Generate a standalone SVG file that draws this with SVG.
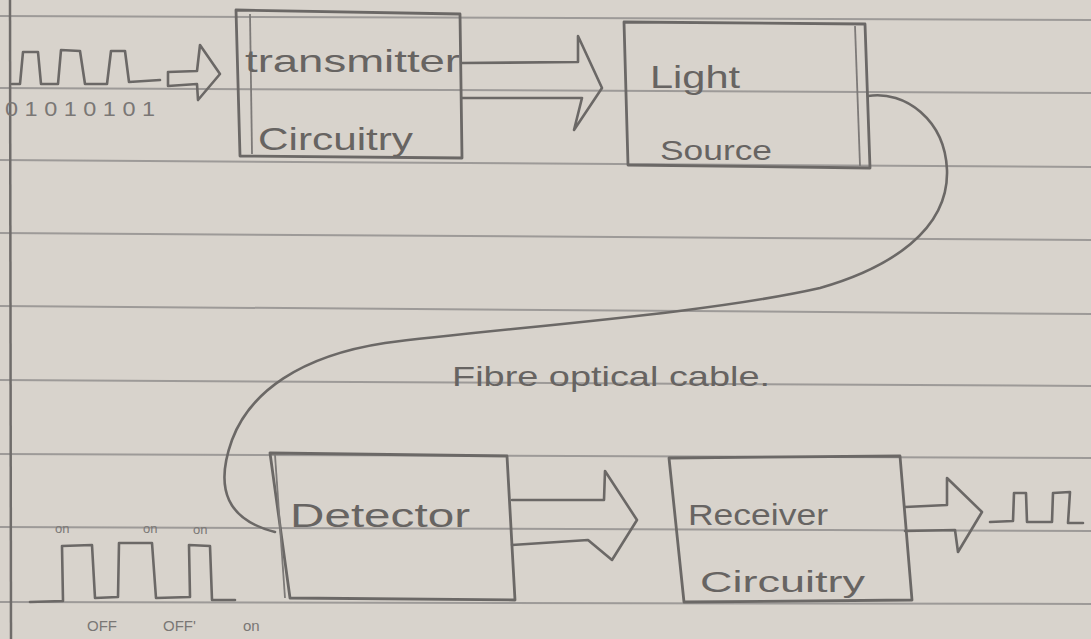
<svg xmlns="http://www.w3.org/2000/svg" width="1091" height="639" viewBox="0 0 1091 639">
<style>
.paper{fill:#d8d3cc}
.rule{stroke:#9d9a98;stroke-width:2;fill:none}
.margin{stroke:#6f6c6a;stroke-width:2.5;fill:none}
.pen{stroke:#6b6866;stroke-width:2.6;fill:none;stroke-linejoin:round;stroke-linecap:round}
.pen2{stroke:#7d7a78;stroke-width:1.8;fill:none}
.box{stroke:#6b6866;stroke-width:2.8;fill:none;stroke-linejoin:round}
.lbl{font-family:"Liberation Sans","DejaVu Sans",sans-serif;fill:#676462}
.sm{font-family:"Liberation Sans","DejaVu Sans",sans-serif;fill:#7a7775}
</style>
<rect class="paper" x="0" y="0" width="1091" height="639"/>
<g id="paper-lines">
<path class="rule" d="M0,16 L1091,20"/>
<path class="rule" d="M0,88 L1091,93"/>
<path class="rule" d="M0,160 L1091,167"/>
<path class="rule" d="M0,233 L1091,240"/>
<path class="rule" d="M0,306 L1091,314"/>
<path class="rule" d="M0,380 L1091,386"/>
<path class="rule" d="M0,454 L1091,458"/>
<path class="rule" d="M0,527 L1091,531"/>
<path class="rule" d="M0,602 L1091,604"/>
<path class="margin" d="M10,0 L11,639"/>
</g>
<g id="input-signal">
<path class="pen" d="M12,84 L20,84 L23,52 L38,52 L41,84 L58,84 L61,50 L80,51 L85,84 L107,84 L111,51 L125,51 L129,82 L160,80"/>
<text class="sm" x="5" y="116" font-size="20" textLength="150" lengthAdjust="spacingAndGlyphs">0 1 0 1 0 1 0 1</text>
</g>
<g id="output-signal">
<path class="pen" d="M990,522 L1013,521 L1014,493 L1026,493 L1027,522 L1052,522 L1053,493 L1070,492 L1068,523 L1083,523"/>
</g>
<g id="transmitter">
<path class="box" d="M236,10 L460,14 L462,158 L240,156 Z"/>
<path class="pen2" d="M250,14 L252,154"/>
<text class="lbl" x="245" y="72" font-size="32" textLength="215" lengthAdjust="spacingAndGlyphs">transmitter</text>
<text class="lbl" x="258" y="150" font-size="32" textLength="155" lengthAdjust="spacingAndGlyphs">Circuitry</text>
</g>
<g id="light-source">
<path class="box" d="M624,22 L865,24 L870,168 L628,165 Z"/>
<path class="pen2" d="M855,26 L860,166"/>
<text class="lbl" x="650" y="88" font-size="32" textLength="90" lengthAdjust="spacingAndGlyphs">Light</text>
<text class="lbl" x="660" y="160" font-size="28" textLength="112" lengthAdjust="spacingAndGlyphs">Source</text>
</g>
<g id="detector">
<path class="box" d="M270,453 L507,456 L515,600 L290,598 Z"/>
<path class="pen2" d="M275,455 L285,598"/>
<text class="lbl" x="290" y="527" font-size="34" textLength="180" lengthAdjust="spacingAndGlyphs">Detector</text>
</g>
<g id="receiver">
<path class="box" d="M669,458 L900,456 L912,600 L684,602 Z"/>
<text class="lbl" x="688" y="525" font-size="30" textLength="140" lengthAdjust="spacingAndGlyphs">Receiver</text>
<text class="lbl" x="700" y="592" font-size="30" textLength="165" lengthAdjust="spacingAndGlyphs">Circuitry</text>
</g>
<g id="received-pulses">
<path class="pen" d="M30,602 L63,601 L62,546 L92,545 L95,598 L118,597 L119,543 L152,543 L156,598 L190,597 L189,545 L210,546 L212,600 L235,600"/>
<text class="sm" x="55" y="533" font-size="13">on</text>
<text class="sm" x="143" y="533" font-size="13">on</text>
<text class="sm" x="193" y="534" font-size="13">on</text>
<text class="sm" x="87" y="631" font-size="15">OFF</text>
<text class="sm" x="163" y="631" font-size="15">OFF'</text>
<text class="sm" x="243" y="631" font-size="15">on</text>
</g>
<g id="connectors">
<path class="pen" d="M168,72 L197,71 L200,45 L220,74 L198,100 L197,84 L168,86 Z" fill="#8e8b89"/>
<path class="pen" d="M462,63 L578,62 L578,36 L602,88 L574,130 L582,98 L462,98"/>
<path class="pen" d="M512,500 L604,500 L605,471 L637,520 L612,560 L588,540 L512,545"/>
<path class="pen" d="M905,507 L947,505 L947,478 L982,512 L958,552 L955,530 L905,531"/>
<path class="pen" d="M868,96 C905,90 945,120 947,170 C949,230 890,268 820,288 C700,315 500,328 385,343 C300,356 250,392 232,440 C214,490 228,520 275,532"/>
<text class="lbl" x="452" y="386" font-size="28" textLength="318" lengthAdjust="spacingAndGlyphs">Fibre optical cable.</text>
</g>
</svg>
